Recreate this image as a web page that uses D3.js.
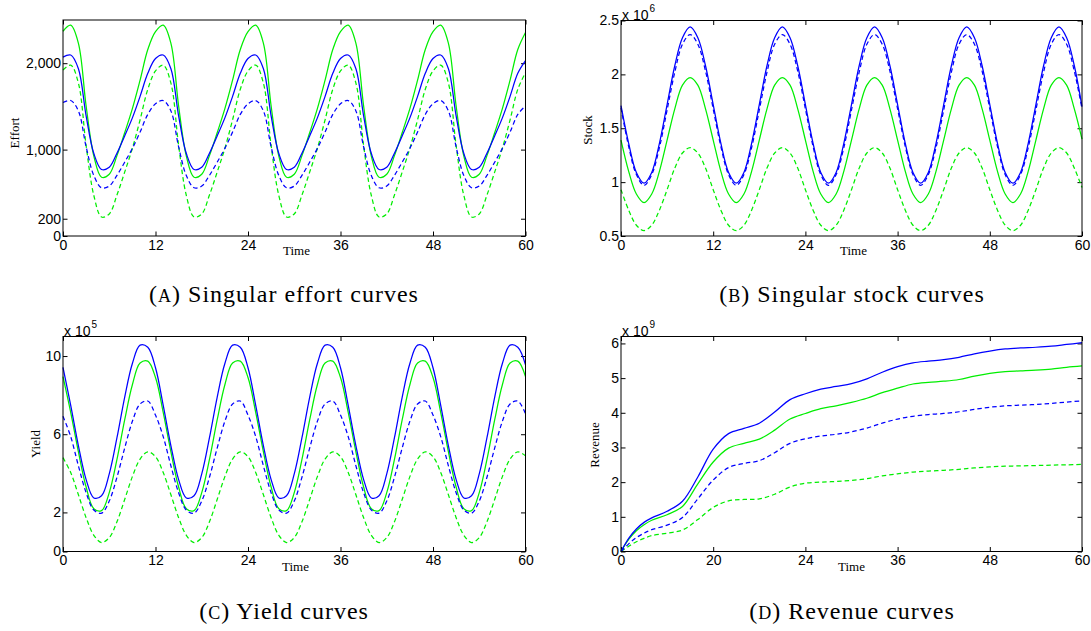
<!DOCTYPE html>
<html><head><meta charset="utf-8">
<script src="https://cdn.jsdelivr.net/npm/d3@7"></script>
<style>
body{margin:0;background:#fff}
svg{display:block}
.tick line{stroke:#000;stroke-width:1}
.tick text{font-family:"Liberation Sans",Arial,sans-serif;font-size:14px;fill:#000}
.cap{font-family:"Liberation Serif","Times New Roman",serif;font-size:24px;letter-spacing:1px;fill:#000}
.lab{font-family:"Liberation Serif","Times New Roman",serif;font-size:13px;fill:#000}
.mul{font-family:"Liberation Sans",Arial,sans-serif;fill:#000}
</style>
</head><body><svg id="c" width="1091" height="631"></svg>
<script>
// ---------- data ----------
const time = [0,1,2,3,4,5,6,7,8,9,10,11,12,13,14,15,16,17,18,19,20,21,22,23,24,25,26,27,28,29,30,
  31,32,33,34,35,36,37,38,39,40,41,42,43,44,45,46,47,48,49,50,51,52,53,54,55,56,57,58,59,60];
const timeTicks = [0,12,24,36,48,60];
const timeTickLabels = ["0","12","24","36","48","60"];
const revenueTickLabelsX = ["0","20","24","36","48","60"];

// (A) effort
const effortGreenSolid = [
2370,2440,2230,1505,925,680,715,930,1195,1474,1804,2158,
2365,2440,2230,1505,925,680,715,930,1195,1474,1804,2158,
2365,2440,2230,1505,925,680,715,930,1195,1474,1804,2158,
2365,2440,2230,1505,925,680,715,930,1195,1474,1804,2158,
2365,2440,2230,1505,925,680,715,930,1195,1474,1804,2158,
2355];
const effortBlueSolid = [
2070,2095,1936,1391,954,770,795,958,1158,1367,1616,1883,
2055,2095,1936,1391,954,770,795,958,1158,1367,1616,1883,
2055,2095,1936,1391,954,770,795,958,1158,1367,1616,1883,
2055,2095,1936,1391,954,770,795,958,1158,1367,1616,1883,
2055,2095,1936,1391,954,770,795,958,1158,1367,1616,1883,
2030];
const effortGreenDashed = [
1922,1978,1769,1047,469,220,255,474,739,1015,1345,1698,
1910,1978,1769,1047,469,220,255,474,739,1015,1345,1698,
1910,1978,1769,1047,469,220,255,474,739,1015,1345,1698,
1910,1978,1769,1047,469,220,255,474,739,1015,1345,1698,
1910,1978,1769,1047,469,220,255,474,739,1015,1345,1698,
1890];
const effortBlueDashed = [
1545,1568,1447,1032,699,558,578,702,854,1014,1203,1407,
1530,1568,1447,1032,699,558,578,702,854,1014,1203,1407,
1530,1568,1447,1032,699,558,578,702,854,1014,1203,1407,
1530,1568,1447,1032,699,558,578,702,854,1014,1203,1407,
1530,1568,1447,1032,699,558,578,702,854,1014,1203,1407,
1505];
const effortTicks = [0,200,1000,2000];
const effortTickLabels = ["0","200","1,000","2,000"];

// (B) stock, x 10^6
const stockBlueSolid = [
1.71,1.36,1.09,0.99,1.09,1.36,1.72,2.08,2.34,2.44,2.34,2.08,
1.72,1.36,1.09,0.99,1.09,1.36,1.72,2.08,2.34,2.44,2.34,2.08,
1.72,1.36,1.09,0.99,1.09,1.36,1.72,2.08,2.34,2.44,2.34,2.08,
1.72,1.36,1.09,0.99,1.09,1.36,1.72,2.08,2.34,2.44,2.34,2.08,
1.72,1.36,1.09,0.99,1.09,1.36,1.72,2.08,2.34,2.44,2.34,2.08,
1.70];
const stockBlueDashed = [
1.69,1.33,1.07,0.97,1.07,1.32,1.67,2.02,2.28,2.37,2.28,2.03,
1.68,1.33,1.07,0.97,1.07,1.32,1.67,2.02,2.28,2.37,2.28,2.03,
1.68,1.33,1.07,0.97,1.07,1.32,1.67,2.02,2.28,2.37,2.28,2.03,
1.68,1.33,1.07,0.97,1.07,1.32,1.67,2.02,2.28,2.37,2.28,2.03,
1.68,1.33,1.07,0.97,1.07,1.32,1.67,2.02,2.28,2.37,2.28,2.03,
1.68];
const stockGreenSolid = [
1.39,1.10,0.89,0.81,0.89,1.10,1.39,1.68,1.90,1.97,1.90,1.68,
1.39,1.10,0.89,0.81,0.89,1.10,1.39,1.68,1.90,1.97,1.90,1.68,
1.39,1.10,0.89,0.81,0.89,1.10,1.39,1.68,1.90,1.97,1.90,1.68,
1.39,1.10,0.89,0.81,0.89,1.10,1.39,1.68,1.90,1.97,1.90,1.68,
1.39,1.10,0.89,0.81,0.89,1.10,1.39,1.68,1.90,1.97,1.90,1.68,
1.40];
const stockGreenDashed = [
0.93,0.74,0.60,0.55,0.60,0.74,0.93,1.13,1.27,1.32,1.27,1.13,
0.93,0.74,0.60,0.55,0.60,0.74,0.93,1.13,1.27,1.32,1.27,1.13,
0.93,0.74,0.60,0.55,0.60,0.74,0.93,1.13,1.27,1.32,1.27,1.13,
0.93,0.74,0.60,0.55,0.60,0.74,0.93,1.13,1.27,1.32,1.27,1.13,
0.93,0.74,0.60,0.55,0.60,0.74,0.93,1.13,1.27,1.32,1.27,1.13,
0.95];
const stockTicks = [0.5,1,1.5,2,2.5];
const stockTickLabels = ["0.5","1","1.5","2","2.5"];

// (C) yield, x 10^5
const yieldBlueSolid = [
9.42,7.48,5.41,3.68,2.74,2.85,3.97,5.82,7.89,9.62,10.56,10.45,
9.40,7.48,5.41,3.68,2.74,2.85,3.97,5.82,7.89,9.62,10.56,10.45,
9.40,7.48,5.41,3.68,2.74,2.85,3.97,5.82,7.89,9.62,10.56,10.45,
9.40,7.48,5.41,3.68,2.74,2.85,3.97,5.82,7.89,9.62,10.56,10.45,
9.40,7.48,5.41,3.68,2.74,2.85,3.97,5.82,7.89,9.62,10.56,10.45,
9.55];
const yieldGreenSolid = [
8.95,7.12,5.10,3.30,2.19,2.09,3.01,4.71,6.73,8.53,9.64,9.74,
8.90,7.12,5.10,3.30,2.19,2.09,3.01,4.71,6.73,8.53,9.64,9.74,
8.90,7.12,5.10,3.30,2.19,2.09,3.01,4.71,6.73,8.53,9.64,9.74,
8.90,7.12,5.10,3.30,2.19,2.09,3.01,4.71,6.73,8.53,9.64,9.74,
8.90,7.12,5.10,3.30,2.19,2.09,3.01,4.71,6.73,8.53,9.64,9.74,
8.95];
const yieldBlueDashed = [
6.92,5.88,4.38,3.01,2.12,1.96,2.58,3.80,5.29,6.66,7.55,7.70,
6.98,5.88,4.38,3.01,2.12,1.96,2.58,3.80,5.29,6.66,7.55,7.70,
6.98,5.88,4.38,3.01,2.12,1.96,2.58,3.80,5.29,6.66,7.55,7.70,
6.98,5.88,4.38,3.01,2.12,1.96,2.58,3.80,5.29,6.66,7.55,7.70,
6.98,5.88,4.38,3.01,2.12,1.96,2.58,3.80,5.29,6.66,7.55,7.70,
7.05];
const yieldGreenDashed = [
4.80,4.04,2.90,1.73,0.83,0.46,0.71,1.52,2.66,3.83,4.73,5.10,
4.85,4.04,2.90,1.73,0.83,0.46,0.71,1.52,2.66,3.83,4.73,5.10,
4.85,4.04,2.90,1.73,0.83,0.46,0.71,1.52,2.66,3.83,4.73,5.10,
4.85,4.04,2.90,1.73,0.83,0.46,0.71,1.52,2.66,3.83,4.73,5.10,
4.85,4.04,2.90,1.73,0.83,0.46,0.71,1.52,2.66,3.83,4.73,5.10,
4.90];
const yieldTicks = [0,2,6,10];
const yieldTickLabels = ["0","2","6","10"];

// (D) revenue, x 10^9
const revenueTime = [0,1,2,3,4,6,8,10,12,14,16,18,20,22,24,26,28,30,32,34,36,38,40,42,44,46,48,50,52,54,56,58,60];
const revenueBlueSolid = [0,0.38,0.65,0.84,0.97,1.16,1.45,2.15,2.95,3.40,3.55,3.70,4.02,4.38,4.55,4.68,4.76,4.84,4.98,5.17,5.33,5.44,5.49,5.53,5.60,5.70,5.78,5.84,5.87,5.89,5.92,5.97,6.02];
const revenueGreenSolid = [0,0.35,0.60,0.77,0.90,1.06,1.30,1.95,2.58,2.98,3.12,3.24,3.50,3.82,3.98,4.12,4.20,4.30,4.42,4.58,4.71,4.83,4.88,4.91,4.96,5.06,5.14,5.19,5.21,5.23,5.26,5.31,5.35];
const revenueBlueDashed = [0,0.22,0.40,0.53,0.63,0.76,0.98,1.52,2.06,2.42,2.54,2.62,2.85,3.12,3.25,3.33,3.38,3.45,3.56,3.70,3.82,3.90,3.95,3.98,4.03,4.10,4.16,4.20,4.22,4.24,4.27,4.31,4.34];
const revenueGreenDashed = [0,0.15,0.28,0.38,0.46,0.53,0.62,0.92,1.27,1.46,1.50,1.52,1.65,1.86,1.97,2.00,2.02,2.05,2.10,2.18,2.24,2.29,2.32,2.34,2.37,2.41,2.44,2.46,2.47,2.48,2.49,2.50,2.51];
const revenueTicks = [0,1,2,3,4,5,6];
const revenueTickLabels = ["0","1","2","3","4","5","6"];

const BLUE = "#0000ff", GREEN = "#00ee00";

// ---------- drawing ----------
const svg = d3.select("#c");

function panel(o){
  const x = d3.scaleLinear().domain([0,60]).range([o.x0,o.x1]);
  const y = d3.scaleLinear().domain(o.yDomain).range([o.yb,o.yt]);
  const g = svg.append("g");
  const T = 4.5;
  const bottom = g.append("g").attr("transform",`translate(0,${o.yb})`)
    .call(d3.axisBottom(x).tickValues(timeTicks).tickFormat((d,i)=>o.xLabels[i]).tickSizeInner(-T).tickSizeOuter(0).tickPadding(4));
  const top = g.append("g").attr("transform",`translate(0,${o.yt})`)
    .call(d3.axisTop(x).tickValues(timeTicks).tickFormat("").tickSizeInner(-T).tickSizeOuter(0));
  const left = g.append("g").attr("transform",`translate(${o.x0},0)`)
    .call(d3.axisLeft(y).tickValues(o.yTicks).tickFormat((d,i)=>o.yLabels[i]).tickSizeInner(-T).tickSizeOuter(0).tickPadding(2));
  const right = g.append("g").attr("transform",`translate(${o.x1},0)`)
    .call(d3.axisRight(y).tickValues(o.yTicks).tickFormat("").tickSizeInner(-T).tickSizeOuter(0));
  [bottom,top,left,right].forEach(a=>a.select(".domain").remove());

  const line = d3.line().x((d,i)=>x(o.t[i])).y(d=>y(d)).curve(d3.curveCatmullRom.alpha(0.5));
  o.series.forEach(s=>{
    g.append("path").datum(s.v).attr("d",line).attr("fill","none")
      .attr("stroke",s.c).attr("stroke-width",1.25)
      .attr("stroke-dasharray",s.d?"4.5,3":null);
  });
  g.append("rect").attr("x",o.x0).attr("y",o.yt).attr("width",o.x1-o.x0).attr("height",o.yb-o.yt)
    .attr("fill","none").attr("stroke","#000").attr("stroke-width",1);

  // axis titles
  g.append("text").attr("class","lab").attr("x",o.timeX).attr("y",o.yb+19).text("Time");
  g.append("text").attr("class","lab").attr("text-anchor","middle")
    .attr("transform",`translate(${o.labX},${o.labY}) rotate(-90)`).text(o.yTitle);
  if(o.exp){
    const t = g.append("text").attr("class","mul").attr("x",o.x0+1).attr("y",o.yt-1).attr("font-size",14);
    t.append("tspan").text("x 10");
    t.append("tspan").attr("font-size",10).attr("dy",-8).attr("dx",1).text(o.exp);
  }
  const cap = g.append("text").attr("class","cap").attr("text-anchor","middle").attr("x",o.capX).attr("y",o.capY);
  cap.append("tspan").text("(");
  cap.append("tspan").attr("font-size",18).text(o.capL);
  cap.append("tspan").text(") " + o.cap);
}

panel({x0:63,x1:525.5,yt:20,yb:236,yDomain:[0,2500],yTicks:effortTicks,yLabels:effortTickLabels,
  xLabels:timeTickLabels,t:time,timeX:283,labX:19,labY:133,yTitle:"Effort",exp:null,
  capX:284,capY:302,capL:"A",cap:"Singular effort curves",
  series:[{v:effortGreenSolid,c:GREEN},{v:effortBlueSolid,c:BLUE},{v:effortGreenDashed,c:GREEN,d:1},{v:effortBlueDashed,c:BLUE,d:1}]});

panel({x0:621,x1:1082,yt:20.5,yb:236,yDomain:[0.5,2.5],yTicks:stockTicks,yLabels:stockTickLabels,
  xLabels:timeTickLabels,t:time,timeX:840,labX:592,labY:130,yTitle:"Stock",exp:"6",
  capX:852,capY:302,capL:"B",cap:"Singular stock curves",
  series:[{v:stockGreenSolid,c:GREEN},{v:stockGreenDashed,c:GREEN,d:1},{v:stockBlueSolid,c:BLUE},{v:stockBlueDashed,c:BLUE,d:1}]});

panel({x0:63,x1:525.5,yt:336.5,yb:551.5,yDomain:[0,11],yTicks:yieldTicks,yLabels:yieldTickLabels,
  xLabels:timeTickLabels,t:time,timeX:282,labX:40,labY:444,yTitle:"Yield",exp:"5",
  capX:284,capY:619,capL:"C",cap:"Yield curves",
  series:[{v:yieldGreenSolid,c:GREEN},{v:yieldGreenDashed,c:GREEN,d:1},{v:yieldBlueSolid,c:BLUE},{v:yieldBlueDashed,c:BLUE,d:1}]});

panel({x0:621,x1:1082,yt:336.5,yb:551.5,yDomain:[0,6.2],yTicks:revenueTicks,yLabels:revenueTickLabels,
  xLabels:revenueTickLabelsX,t:revenueTime,timeX:838,labX:599,labY:445,yTitle:"Revenue",exp:"9",
  capX:852,capY:619,capL:"D",cap:"Revenue curves",
  series:[{v:revenueGreenSolid,c:GREEN},{v:revenueGreenDashed,c:GREEN,d:1},{v:revenueBlueSolid,c:BLUE},{v:revenueBlueDashed,c:BLUE,d:1}]});
</script>
</body></html>
